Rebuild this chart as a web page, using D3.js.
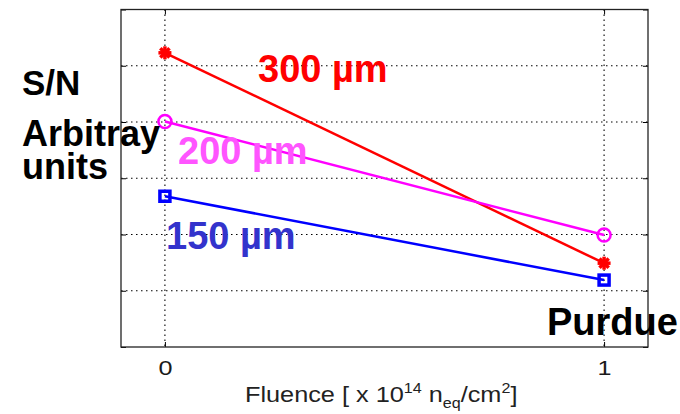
<!DOCTYPE html>
<html>
<head>
<meta charset="utf-8">
<script src="https://cdn.jsdelivr.net/npm/d3@7"></script>
<style>
  html, body { margin: 0; padding: 0; background: #fff; }
  svg { display: block; font-family: "Liberation Sans", Arial, sans-serif; }
</style>
</head>
<body>
<svg id="chart" width="680" height="414"></svg>
<script>
// ---- data ----
const fluence = [0, 1];
const sn300 = [5.23, 1.49];
const sn200 = [4.01, 1.99];
const sn150 = [2.68, 1.19];
const xTicks = [0, 1];
const xTickLabels = ["0", "1"];
const yTicks = [0, 1, 2, 3, 4, 5, 6];
const seriesNames = ["300 \u00b5m", "200 \u00b5m", "150 \u00b5m"];

const svg = d3.select("#chart");
const L = 121, R = 648, T = 9.5, B = 347;
const x = d3.scaleLinear().domain([-0.1, 1.1]).range([L, R]);
const y = d3.scaleLinear().domain([0, 6]).range([B, T]);

// grid
const grid = svg.append("g");
grid.selectAll(".gy").data(yTicks.slice(1, -1)).join("line")
  .attr("x1", L).attr("x2", R).attr("y1", d => y(d)).attr("y2", d => y(d))
  .attr("stroke", "#000").attr("stroke-width", 1.1).attr("stroke-dasharray", "1.5,3.5");
grid.selectAll(".gx").data(xTicks).join("line")
  .attr("x1", d => x(d)).attr("x2", d => x(d)).attr("y1", T).attr("y2", B)
  .attr("stroke", "#000").attr("stroke-width", 1.1).attr("stroke-dasharray", "1.5,3.5");

// axes (inward ticks, MATLAB style)
const axB = d3.axisBottom(x).tickValues(xTicks).tickSize(-5).tickFormat((d, i) => xTickLabels[i]).tickPadding(13);
const gB = svg.append("g").attr("transform", `translate(0,${B})`).call(axB);
gB.select(".domain").remove();
gB.selectAll("text").attr("font-size", 21).attr("fill", "#1a1a1a")
  .attr("font-family", "Liberation Sans, Arial, sans-serif").attr("transform", "scale(1.2,1)");
gB.selectAll("line").attr("stroke", "#000");
const axT = d3.axisTop(x).tickValues(xTicks).tickSize(-5).tickFormat("");
const gT = svg.append("g").attr("transform", `translate(0,${T})`).call(axT);
gT.select(".domain").remove();
const axL = d3.axisLeft(y).tickValues(yTicks).tickSize(-5).tickFormat("");
const gL = svg.append("g").attr("transform", `translate(${L},0)`).call(axL);
gL.select(".domain").remove();
const axR = d3.axisRight(y).tickValues(yTicks).tickSize(-5).tickFormat("");
const gR = svg.append("g").attr("transform", `translate(${R},0)`).call(axR);
gR.select(".domain").remove();

// frame
svg.append("rect").attr("x", L).attr("y", T).attr("width", R - L).attr("height", B - T)
  .attr("fill", "none").attr("stroke", "#222").attr("stroke-width", 1.3);

// lines
const series = [
  {vals: sn300, color: "#ff0000", marker: "star"},
  {vals: sn200, color: "#ff00ff", marker: "circle"},
  {vals: sn150, color: "#0000ff", marker: "square"}
];
const line = d3.line().x(d => x(d[0])).y(d => y(d[1]));
series.forEach(s => {
  const pts = fluence.map((f, i) => [f, s.vals[i]]);
  svg.append("path").attr("d", line(pts)).attr("fill", "none")
    .attr("stroke", s.color).attr("stroke-width", 2.5);
  pts.forEach(p => {
    const cx = x(p[0]), cy = y(p[1]);
    if (s.marker === "circle") {
      svg.append("circle").attr("cx", cx).attr("cy", cy).attr("r", 6.5)
        .attr("fill", "none").attr("stroke", s.color).attr("stroke-width", 2.5);
    } else if (s.marker === "square") {
      svg.append("rect").attr("x", cx - 5).attr("y", cy - 5).attr("width", 10).attr("height", 10)
        .attr("fill", "none").attr("stroke", s.color).attr("stroke-width", 3.5);
    } else {
      const r = 6.5;
      [0, 45, 90, 135].forEach(a => {
        const rad = a * Math.PI / 180;
        svg.append("line")
          .attr("x1", cx - r * Math.cos(rad)).attr("y1", cy - r * Math.sin(rad))
          .attr("x2", cx + r * Math.cos(rad)).attr("y2", cy + r * Math.sin(rad))
          .attr("stroke", s.color).attr("stroke-width", 3.5);
      });
    }
  });
});

// series labels
const lab = [
  {t: seriesNames[0], x: 258, y: 82, c: "#ff0000"},
  {t: seriesNames[1], x: 178, y: 164, c: "#ff55ff"},
  {t: seriesNames[2], x: 166, y: 249, c: "#3333cc"}
];
lab.forEach(l => {
  svg.append("text").attr("x", l.x).attr("y", l.y).attr("font-size", 38)
    .attr("font-weight", "bold").attr("fill", l.c).text(l.t);
});

// y labels
[["S/N", 95, 35], ["Arbitray", 146, 36], ["units", 179, 36]].forEach(d => {
  svg.append("text").attr("x", 22).attr("y", d[1]).attr("font-size", d[2])
    .attr("font-weight", "bold").attr("fill", "#000").text(d[0]);
});
svg.append("text").attr("x", 547).attr("y", 335).attr("font-size", 38)
  .attr("font-weight", "bold").attr("fill", "#000").text("Purdue");

// x label
const xl = svg.append("text").attr("x", 0).attr("y", 0).attr("font-size", 22).attr("fill", "#222")
  .attr("transform", "translate(245,402) scale(1.15,1)");
xl.append("tspan").text("Fluence [ x 10");
xl.append("tspan").attr("dy", -9).attr("font-size", 14).text("14");
xl.append("tspan").attr("dy", 9).text(" n");
xl.append("tspan").attr("dy", 6).attr("font-size", 14).text("eq");
xl.append("tspan").attr("dy", -6).text("/cm");
xl.append("tspan").attr("dy", -9).attr("font-size", 14).text("2");
xl.append("tspan").attr("dy", 9).text("]");
</script>
</body>
</html>
